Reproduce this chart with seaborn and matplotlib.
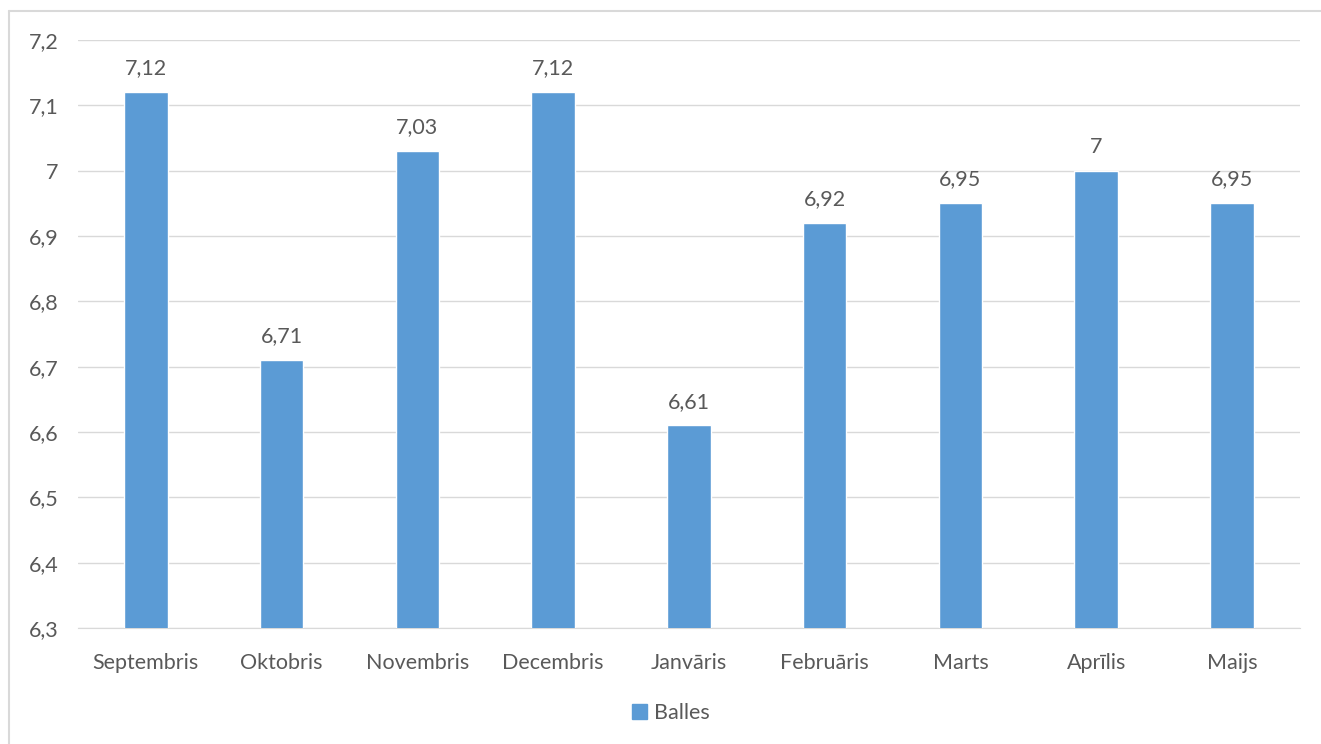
import numpy as np
import pandas as pd
import matplotlib
matplotlib.use("Agg")
import matplotlib.pyplot as plt
import seaborn as sns
from matplotlib.patches import Patch
from matplotlib.lines import Line2D

months = ["Septembris", "Oktobris", "Novembris", "Decembris", "Janvāris",
          "Februāris", "Marts", "Aprīlis", "Maijs"]
balles = [7.12, 6.71, 7.03, 7.12, 6.61, 6.92, 6.95, 7.00, 6.95]
labels = ["7,12", "6,71", "7,03", "7,12", "6,61", "6,92", "6,95", "7", "6,95"]
yticks = [6.3, 6.4, 6.5, 6.6, 6.7, 6.8, 6.9, 7.0, 7.1, 7.2]

df = pd.DataFrame({"month": months, "Balles": balles})

sns.set_style("white")
plt.rcParams['font.family'] = ['Lato', 'DejaVu Sans']

bar_color = "#5B9BD5"
text_color = "#595959"
fs = 15.5

fig = plt.figure(figsize=(13.21, 7.44), dpi=100)
ax = fig.add_axes([0.059, 0.156, 0.925, 0.790])

sns.barplot(ax=ax, data=df, x="month", y="Balles", color=bar_color,
            width=0.32, saturation=1, zorder=3)

ax.set_ylim(6.3, 7.2)
ax.set_yticks(yticks)
ax.set_yticklabels([f"{t:.1f}".replace(".", ",").replace(",0", "") for t in yticks])
ax.set_xlim(-0.5, len(months) - 0.5)
ax.grid(axis="y", color="#D9D9D9", linewidth=1, zorder=0)
ax.set_xlabel("")
ax.set_ylabel("")
for s in ["top", "right", "left"]:
    ax.spines[s].set_visible(False)
ax.spines["bottom"].set_color("#D9D9D9")
ax.tick_params(axis="y", length=0, labelsize=fs, labelcolor=text_color, pad=14)
ax.tick_params(axis="x", length=0, labelsize=fs, labelcolor=text_color, pad=18)

for i, (v, lab) in enumerate(zip(balles, labels)):
    ax.annotate(lab, (i, v), xytext=(0, 10), textcoords="offset points",
                ha="center", va="bottom", fontsize=fs, color=text_color)

fig.legend(handles=[Patch(color=bar_color, label="Balles")], loc="center",
           bbox_to_anchor=(0.508, 0.041), frameon=False, fontsize=fs,
           handlelength=0.7, handleheight=0.7, handletextpad=0.3,
           labelcolor=text_color)

# chart frame: only left and top edges fall inside the image
x0, y0 = 8.5 / 1321, 1 - 10.5 / 744
fig.add_artist(Line2D([x0, 1], [y0, y0], transform=fig.transFigure,
                      color="#D9D9D9", linewidth=1.5))
fig.add_artist(Line2D([x0, x0], [0, y0], transform=fig.transFigure,
                      color="#D9D9D9", linewidth=1.5))

fig.savefig("out.png", dpi=100)
